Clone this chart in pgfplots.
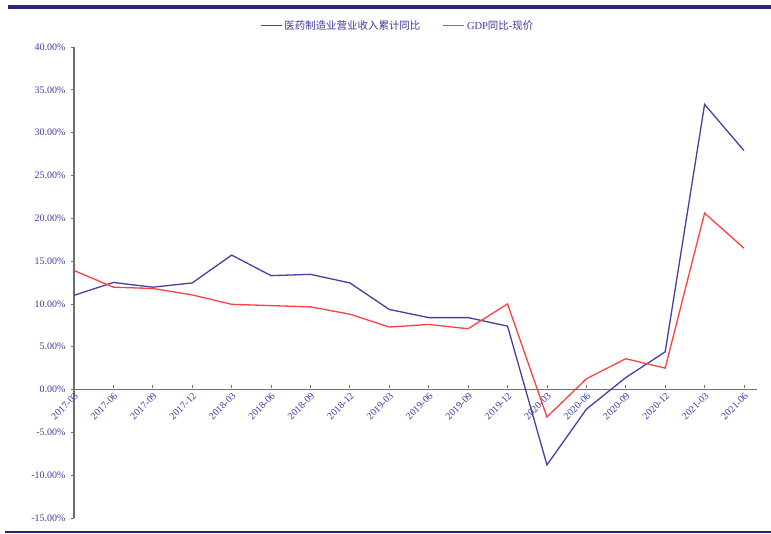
\documentclass[border=0pt]{standalone}
\usepackage{pgfplots}
\pgfplotsset{compat=1.18}
\usepackage{fontspec}
\setmainfont{Liberation Serif}
\newfontfamily\cjk{Noto Sans CJK SC}
\definecolor{navy}{RGB}{40,36,130}
\definecolor{sblue}{RGB}{72,62,160}
\definecolor{sred}{RGB}{255,64,64}
\definecolor{lbl}{RGB}{62,58,160}
\definecolor{axg}{RGB}{110,110,110}
\begin{document}
\begin{tikzpicture}[x=1bp,y=1bp]
\useasboundingbox (0,0) rectangle (771,534);
\draw[navy, line width=3.5bp] (8,527) -- (771,527);
\draw[navy, line width=1.5bp] (5,2) -- (771,2);
\begin{axis}[
  at={(74bp,16bp)}, anchor=south west,
  scale only axis, width=683bp, height=471bp,
  xmin=0, xmax=17.33, ymin=-15, ymax=40,
  axis y line=left, axis x line=middle,
  hide obscured x ticks=false,
  axis line style={-, axg, line width=1.2bp},
  xtick={0,...,17},
  xticklabels={2017-03,2017-06,2017-09,2017-12,2018-03,2018-06,2018-09,2018-12,2019-03,2019-06,2019-09,2019-12,2020-03,2020-06,2020-09,2020-12,2021-03,2021-06},
  ytick={-15,-10,...,40},
  yticklabel={\pgfmathprintnumber[fixed,fixed zerofill,precision=2]{\tick}\%},
  /pgf/number format/assume math mode=true,
  ticklabel style={font=\fontsize{10}{11}\selectfont, text=lbl},
  xticklabel style={rotate=45, anchor=north east, inner sep=1.5bp},
  yticklabel style={inner sep=5bp},
  x tick style={axg, line width=0.8bp, yshift=1.5bp},
  y tick style={axg, line width=0.8bp},
  xtick align=inside, ytick align=outside,
  major tick length=3.5bp,
  legend style={at={(0.5,1)}, anchor=south, yshift=12bp, xshift=-18bp, draw=none,
    font=\fontsize{10.5}{12}\selectfont,
    legend columns=-1,
    /tikz/every even column/.append style={column sep=20bp}},
  legend image post style={line width=1.6bp, xscale=1.24},
]
\addplot[sblue, line width=1.3bp] coordinates {
(0,11.0) (1,12.5) (2,11.95) (3,12.45) (4,15.7) (5,13.3) (6,13.45) (7,12.45)
(8,9.35) (9,8.4) (10,8.4) (11,7.4) (12,-8.8) (13,-2.3) (14,1.4) (15,4.4)
(16,33.3) (17,27.9)};
\addlegendentry{\textcolor{lbl}{\cjk 医药制造业营业收入累计同比}}
\addplot[sred, line width=1.3bp] coordinates {
(0,13.9) (1,11.95) (2,11.8) (3,11.05) (4,9.95) (5,9.8) (6,9.65) (7,8.8)
(8,7.3) (9,7.6) (10,7.1) (11,10.0) (12,-3.2) (13,1.25) (14,3.6) (15,2.5)
(16,20.6) (17,16.5)};
\addlegendentry{\textcolor{lbl}{GDP{\cjk 同比}-{\cjk 现价}}}
\end{axis}
\end{tikzpicture}
\end{document}
